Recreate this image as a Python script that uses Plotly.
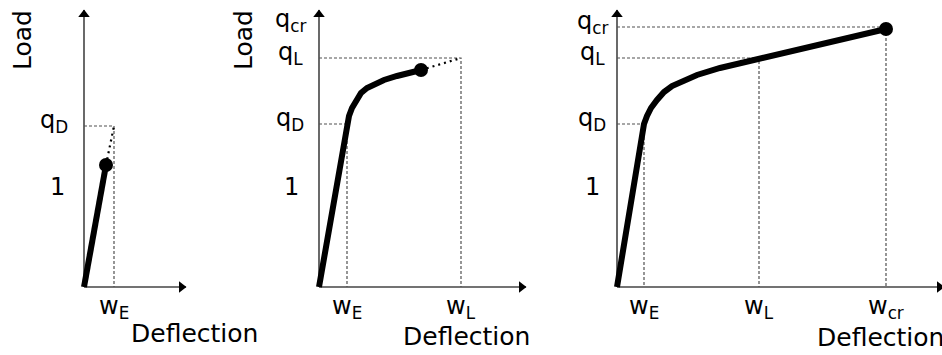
import plotly.graph_objects as go

# ---------------- data (deflection / load in arbitrary units) ----------------
# Panel 1
p1_curve_x = [0.0, 0.22]
p1_curve_y = [0.0, 1.22]
p1_qD, p1_wE = 1.61, 0.30

# Panel 2
p2_curve_x = [0.0, 0.277, 0.30, 0.33, 0.37, 0.42, 0.48, 0.55, 0.65, 0.78, 0.90, 1.02]
p2_curve_y = [0.0, 1.63, 1.71, 1.79, 1.87, 1.94, 1.99, 2.03, 2.07, 2.11, 2.14, 2.17]
p2_qD, p2_qL, p2_qcr = 1.63, 2.29, 2.62
p2_wE, p2_wL = 0.28, 1.42

# Panel 3
p3_curve_x = [0.0, 0.27, 0.30, 0.34, 0.40, 0.47, 0.55, 0.65, 0.80, 1.03, 1.42, 2.69]
p3_curve_y = [0.0, 1.63, 1.71, 1.79, 1.87, 1.95, 2.01, 2.06, 2.12, 2.19, 2.28, 2.58]
p3_qD, p3_qL, p3_qcr = 1.63, 2.29, 2.60
p3_wE, p3_wL, p3_wcr = 0.27, 1.42, 2.69

unit_load = 1.0

# axis extents (arrow tips)
axis_y_top = [2.77, 2.77, 2.77]
axis_x_end = [1.02, 2.07, 3.27]

FONT = "DejaVu Sans"
CURVE = dict(color="black", width=6)
DASH = dict(color="#505050", width=1.2, dash="3px,2px")
DOTS = dict(color="black", width=2.2, dash="2px,4px")
AXC = "#444444"

fig = go.Figure()

W, H = 942, 355
panels = [
    ("x", "y", [0 / W, 240 / W], [-0.84, 1.56]),
    ("x2", "y2", [240 / W, 560 / W], [-0.79, 2.41]),
    ("x3", "y3", [560 / W, 1.0], [-0.57, 3.25]),
]
yrange = [-0.68, 2.87]


def line(xa, ya, xs, ys, style):
    fig.add_trace(go.Scatter(x=xs, y=ys, xaxis=xa, yaxis=ya, mode="lines",
                             line=style, hoverinfo="skip", showlegend=False,
                             cliponaxis=False))


def dot(xa, ya, x, y):
    fig.add_trace(go.Scatter(x=[x], y=[y], xaxis=xa, yaxis=ya, mode="markers",
                             marker=dict(color="black", size=14), hoverinfo="skip",
                             showlegend=False, cliponaxis=False))


def axes(i):
    xa, ya = panels[i][0], panels[i][1]
    line(xa, ya, [0, 0], [0, axis_y_top[i]], dict(color=AXC, width=1.6))
    line(xa, ya, [0, axis_x_end[i]], [0, 0], dict(color=AXC, width=1.6))
    fig.add_trace(go.Scatter(x=[0], y=[axis_y_top[i] - 0.045], xaxis=xa, yaxis=ya,
                             mode="markers", marker=dict(symbol="triangle-up", size=10, color="black"),
                             hoverinfo="skip", showlegend=False, cliponaxis=False))
    fig.add_trace(go.Scatter(x=[axis_x_end[i] - 0.045], y=[0], xaxis=xa, yaxis=ya,
                             mode="markers", marker=dict(symbol="triangle-right", size=10, color="black"),
                             hoverinfo="skip", showlegend=False, cliponaxis=False))


def guide(xa, ya, xv, yv):
    line(xa, ya, [0, xv, xv], [yv, yv, 0], DASH)


annots = []
TICKF = dict(family=FONT, size=24, color="black")
TITLEF = dict(family=FONT, size=25, color="black")


def ylab(xa, ya, xoff, yv, text, q=True):
    annots.append(dict(x=xoff, y=yv, xref=xa, yref=ya, text=text, showarrow=False,
                       xanchor="center", yanchor="middle", yshift=5 if q else 0,
                       font=TICKF))


def xlab(xa, ya, xv, text):
    annots.append(dict(x=xv, y=0, xref=xa, yref=ya, text=text, showarrow=False,
                       xanchor="center", yanchor="top", yshift=-3,
                       font=TICKF))


def titles(xa, ya, load_x, defl_x, defl_y):
    annots.append(dict(x=load_x, y=2.47, xref=xa, yref=ya, text="Load", showarrow=False,
                       textangle=-90, xanchor="center", yanchor="middle",
                       font=TITLEF))
    annots.append(dict(x=defl_x, y=defl_y, xref=xa, yref=ya, text="Deflection", showarrow=False,
                       xanchor="left", yanchor="middle",
                       font=TITLEF))


# ---- panel 1
xa, ya = "x", "y"
axes(0)
guide(xa, ya, p1_wE, p1_qD)
line(xa, ya, [p1_curve_x[-1], p1_wE], [p1_curve_y[-1], p1_qD], DOTS)
line(xa, ya, p1_curve_x, p1_curve_y, CURVE)
dot(xa, ya, p1_curve_x[-1], p1_curve_y[-1])
ylab(xa, ya, -0.30, p1_qD, "q<sub>D</sub>")
ylab(xa, ya, -0.265, unit_load, "1", q=False)
xlab(xa, ya, p1_wE, "w<sub>E</sub>")
titles(xa, ya, -0.62, 0.45, -0.46)

# ---- panel 2
xa, ya = "x2", "y2"
axes(1)
guide(xa, ya, p2_wE, p2_qD)
guide(xa, ya, p2_wL, p2_qL)
line(xa, ya, [p2_curve_x[-1], p2_wL], [p2_curve_y[-1], p2_qL], DOTS)
line(xa, ya, p2_curve_x, p2_curve_y, CURVE)
dot(xa, ya, p2_curve_x[-1], p2_curve_y[-1])
ylab(xa, ya, -0.29, p2_qcr, "q<sub>cr</sub>")
ylab(xa, ya, -0.29, p2_qL, "q<sub>L</sub>")
ylab(xa, ya, -0.29, p2_qD, "q<sub>D</sub>")
ylab(xa, ya, -0.28, unit_load, "1", q=False)
xlab(xa, ya, p2_wE, "w<sub>E</sub>")
xlab(xa, ya, p2_wL, "w<sub>L</sub>")
titles(xa, ya, -0.76, 0.82, -0.49)

# ---- panel 3
xa, ya = "x3", "y3"
axes(2)
guide(xa, ya, p3_wE, p3_qD)
guide(xa, ya, p3_wL, p3_qL)
guide(xa, ya, p3_wcr, p3_qcr)
line(xa, ya, p3_curve_x, p3_curve_y, CURVE)
dot(xa, ya, p3_curve_x[-1], p3_curve_y[-1])
ylab(xa, ya, -0.25, p3_qcr, "q<sub>cr</sub>")
ylab(xa, ya, -0.25, p3_qL, "q<sub>L</sub>")
ylab(xa, ya, -0.25, p3_qD, "q<sub>D</sub>")
ylab(xa, ya, -0.25, unit_load, "1", q=False)
xlab(xa, ya, p3_wE, "w<sub>E</sub>")
xlab(xa, ya, p3_wL, "w<sub>L</sub>")
xlab(xa, ya, p3_wcr, "w<sub>cr</sub>")
titles(xa, ya, -0.76, 1.98, -0.50)

hidden = dict(visible=False, showgrid=False, zeroline=False, fixedrange=True)
lay = dict(width=W, height=H, margin=dict(l=0, r=0, t=0, b=0),
           paper_bgcolor="white", plot_bgcolor="rgba(0,0,0,0)",
           showlegend=False, annotations=annots)
for i, (xn, yn, dom, rng) in enumerate(panels):
    sx = "" if i == 0 else str(i + 1)
    lay["xaxis" + sx] = dict(hidden, domain=dom, range=rng, anchor=yn)
    lay["yaxis" + sx] = dict(hidden, domain=[0, 1], range=yrange, anchor=xn)
fig.update_layout(**lay)

fig.write_html("out.html")
